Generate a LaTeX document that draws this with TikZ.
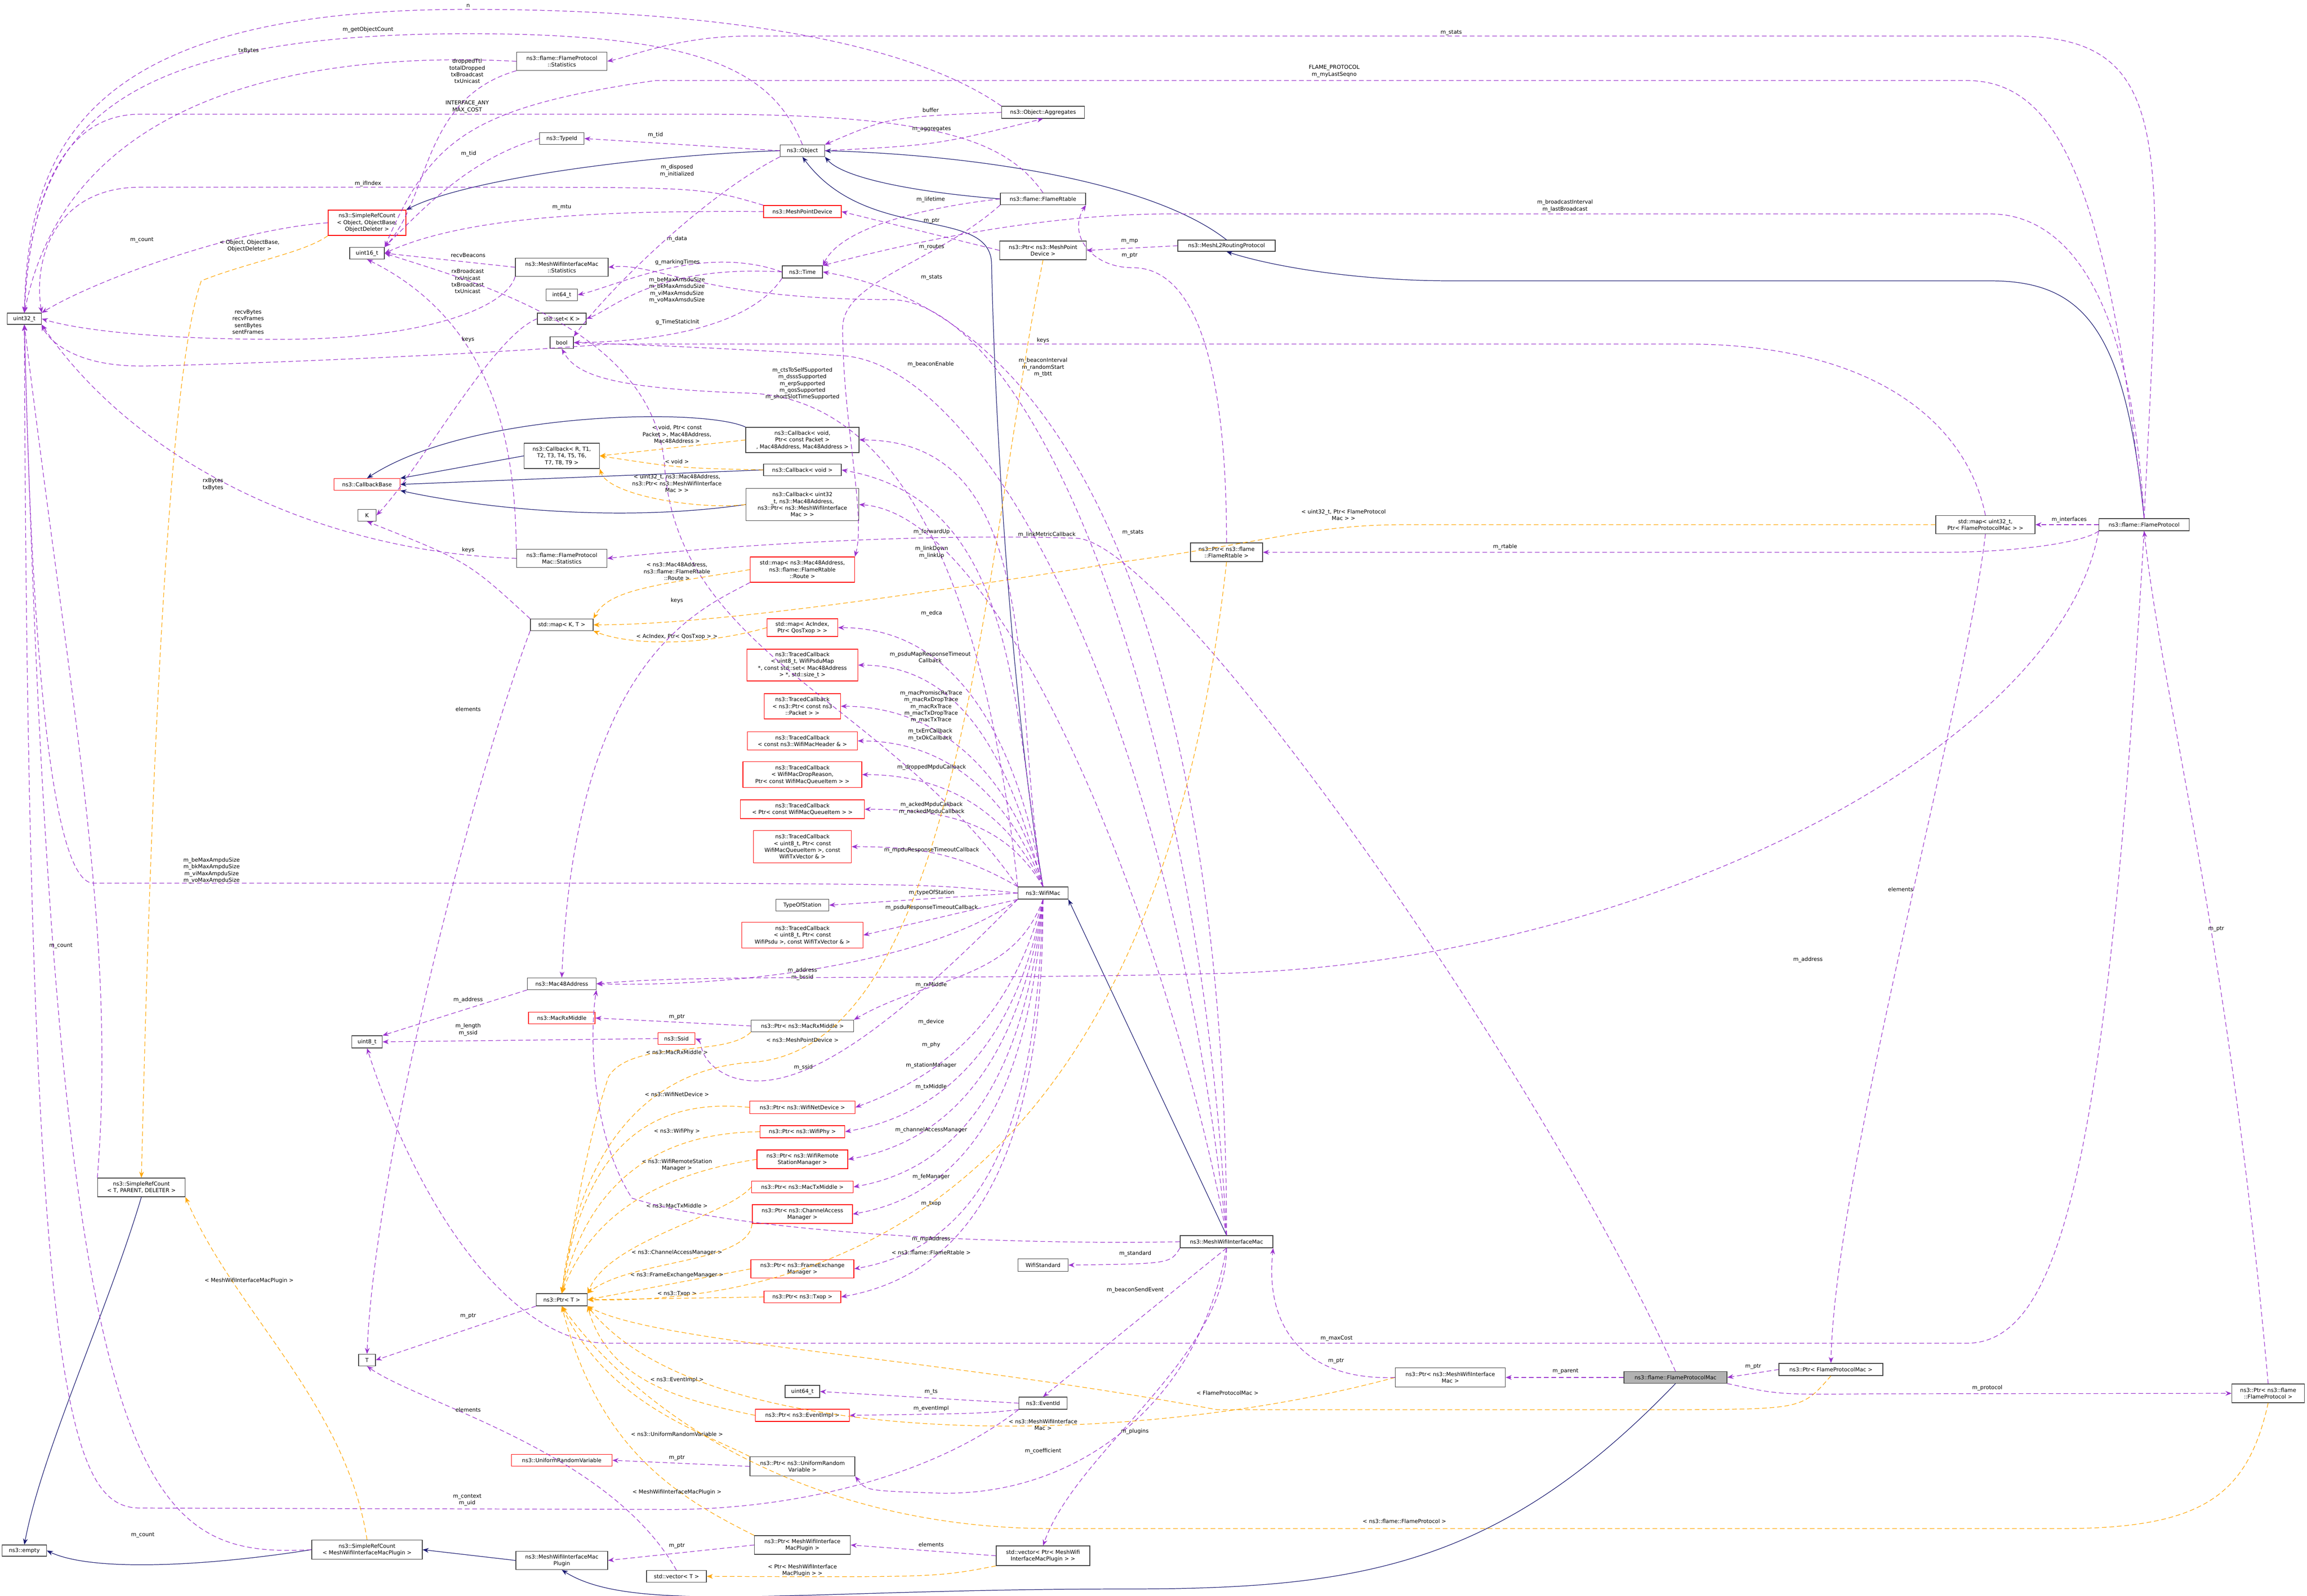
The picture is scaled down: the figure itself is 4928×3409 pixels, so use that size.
\documentclass[tikz,border=0pt]{standalone}
\usepackage{fontspec}
\setmainfont{DejaVu Sans}
\usetikzlibrary{arrows.meta}
\definecolor{purp}{HTML}{9A32CD}
\definecolor{orng}{HTML}{FFA500}
\definecolor{navyb}{HTML}{191970}
\tikzset{
 box/.style={draw=black!75,line width=0.7pt,fill=white,inner sep=1pt,align=center,font=\fontsize{6.6}{8.2}\selectfont},
 rbox/.style={box,draw=red},
 lbl/.style={inner sep=0pt,align=center,font=\fontsize{6.6}{8.2}\selectfont},
 use/.style={draw=purp,line width=0.7pt,dash pattern=on 2mm off 1.2mm,-{Stealth[length=2.6mm,width=2mm]}},
 tmpl/.style={draw=orng,line width=0.7pt,dash pattern=on 2mm off 1.2mm,-{Stealth[length=2.6mm,width=2mm]}},
 inh/.style={draw=navyb,line width=0.7pt,-{Stealth[length=2.6mm,width=2mm]}},
}
\newcommand{\bx}[6]{\node[#1,minimum width=#4*0.2mm,minimum height=#5*0.2mm] (#2) at (#3) {#6};}
\begin{document}
\begin{tikzpicture}[x=0.2mm,y=-0.2mm]
\useasboundingbox (0,0) rectangle (4928,3409);
% nodes
\bx{box}{uint32}{52,681}{73}{24}{uint32\_t}
\bx{rbox}{srcObj}{784,476}{166}{54}{ns3::SimpleRefCount\\< Object, ObjectBase,\\ObjectDeleter >}
\bx{box}{uint16}{784,541}{74}{25}{uint16\_t}
\bx{box}{typeid}{1200,296}{95}{25}{ns3::TypeId}
\bx{box}{fpStats}{1200,131}{193}{39}{ns3::flame::FlameProtocol\\::Statistics}
\bx{box}{mwimStats}{1200,571}{198}{39}{ns3::MeshWifiInterfaceMac\\::Statistics}
\bx{box}{int64}{1200,630}{67}{25}{int64\_t}
\bx{box}{setK}{1200,681}{104}{24}{std::set< K >}
\bx{box}{bool}{1200,732}{50}{25}{bool}
\bx{box}{aggr}{2228,240}{177}{26}{ns3::Object::Aggregates}
\bx{box}{object}{1714,322}{95}{25}{ns3::Object}
\bx{box}{frtable}{2228,425}{182}{25}{ns3::flame::FlameRtable}
\bx{rbox}{mpd}{1714,452}{166}{26}{ns3::MeshPointDevice}
\bx{box}{ptrMpd}{2228,535}{185}{40}{ns3::Ptr< ns3::MeshPoint\\Device >}
\bx{box}{time}{1714,581}{86}{26}{ns3::Time}
\bx{box}{cbRT}{1200,974}{161}{54}{ns3::Callback< R, T1,\\T2, T3, T4, T5, T6,\\T7, T8, T9 >}
\bx{rbox}{cbBase}{784,1035}{141}{25}{ns3::CallbackBase}
\bx{box}{cbVoidPkt}{1714,940}{242}{54}{ns3::Callback< void,\\Ptr< const Packet >\\, Mac48Address, Mac48Address >}
\bx{box}{cbVoid}{1714,1004}{166}{25}{ns3::Callback< void >}
\bx{box}{cbU32}{1714,1078}{241}{69}{ns3::Callback< uint32\\\_t, ns3::Mac48Address,\\ns3::Ptr< ns3::MeshWifiInterface\\Mac > >}
\bx{box}{K}{784,1101}{39}{25}{K}
\bx{box}{fpmStats}{1200,1193}{193}{39}{ns3::flame::FlameProtocol\\Mac::Statistics}
\bx{rbox}{mapRoute}{1714,1217}{223}{54}{std::map< ns3::Mac48Address,\\ns3::flame::FlameRtable\\::Route >}
\bx{box}{mapKT}{1200,1335}{134}{25}{std::map< K, T >}
\bx{rbox}{mapAc}{1714,1341}{151}{38}{std::map< AcIndex,\\Ptr< QosTxop > >}
\bx{rbox}{tcPsduMap}{1714,1421}{237}{68}{ns3::TracedCallback\\< uint8\_t, WifiPsduMap\\*, const std::set< Mac48Address\\> *, std::size\_t >}
\bx{rbox}{tcPkt}{1714,1509}{163}{54}{ns3::TracedCallback\\< ns3::Ptr< const ns3\\::Packet > >}
\bx{rbox}{tcHdr}{1714,1583}{235}{39}{ns3::TracedCallback\\< const ns3::WifiMacHeader \& >}
\bx{rbox}{tcDrop}{1714,1655}{254}{55}{ns3::TracedCallback\\< WifiMacDropReason,\\Ptr< const WifiMacQueueItem > >}
\bx{rbox}{tcItem}{1714,1729}{265}{40}{ns3::TracedCallback\\< Ptr< const WifiMacQueueItem > >}
\bx{rbox}{tcMpdu}{1714,1809}{209}{69}{ns3::TracedCallback\\< uint8\_t, Ptr< const\\WifiMacQueueItem >, const\\WifiTxVector \& >}
\bx{box}{tos}{1714,1934}{113}{25}{TypeOfStation}
\bx{rbox}{tcPsdu}{1714,1998}{259}{55}{ns3::TracedCallback\\< uint8\_t, Ptr< const\\WifiPsdu >, const WifiTxVector \& >}
\bx{box}{mac48}{1200,2102}{147}{25}{ns3::Mac48Address}
\bx{rbox}{macRx}{1200,2175}{142}{25}{ns3::MacRxMiddle}
\bx{box}{ptrMacRx}{1714,2192}{219}{25}{ns3::Ptr< ns3::MacRxMiddle >}
\bx{box}{uint8}{784,2226}{65}{26}{uint8\_t}
\bx{rbox}{ssid}{1445,2219}{79}{25}{ns3::Ssid}
\bx{rbox}{ptrNetDev}{1714,2366}{225}{27}{ns3::Ptr< ns3::WifiNetDevice >}
\bx{rbox}{ptrPhy}{1714,2418}{181}{26}{ns3::Ptr< ns3::WifiPhy >}
\bx{rbox}{ptrRsm}{1714,2477}{194}{40}{ns3::Ptr< ns3::WifiRemote\\StationManager >}
\bx{rbox}{ptrTxMid}{1714,2536}{217}{25}{ns3::Ptr< ns3::MacTxMiddle >}
\bx{rbox}{ptrCam}{1714,2594}{214}{40}{ns3::Ptr< ns3::ChannelAccess\\Manager >}
\bx{rbox}{ptrFem}{1714,2711}{220}{39}{ns3::Ptr< ns3::FrameExchange\\Manager >}
\bx{rbox}{ptrTxop}{1714,2771}{164}{25}{ns3::Ptr< ns3::Txop >}
\bx{box}{ptrT}{1200,2777}{109}{26}{ns3::Ptr< T >}
\bx{box}{wifimac}{2228,1908}{107}{26}{ns3::WifiMac}
\bx{box}{ptrFrt}{2620,1180}{154}{40}{ns3::Ptr< ns3::flame\\::FlameRtable >}
\bx{box}{mwim}{2620,2653}{198}{26}{ns3::MeshWifiInterfaceMac}
\bx{box}{wifiStd}{2228,2703}{107}{27}{WifiStandard}
\bx{box}{T}{784,2906}{36}{25}{T}
\bx{box}{uint64}{1714,2973}{74}{26}{uint64\_t}
\bx{box}{eventId}{2228,2998}{103}{26}{ns3::EventId}
\bx{rbox}{ptrEvImpl}{1714,3024}{201}{26}{ns3::Ptr< ns3::EventImpl >}
\bx{rbox}{urv}{1200,3120}{215}{25}{ns3::UniformRandomVariable}
\bx{box}{ptrUrv}{1714,3133}{224}{41}{ns3::Ptr< ns3::UniformRandom\\Variable >}
\bx{box}{empty}{52,3313}{95}{24}{ns3::empty}
\bx{box}{srcPlugin}{784,3311}{236}{41}{ns3::SimpleRefCount\\< MeshWifiInterfaceMacPlugin >}
\bx{box}{plugin}{1200,3334}{196}{39}{ns3::MeshWifiInterfaceMac\\Plugin}
\bx{box}{ptrPlugin}{1714,3301}{205}{40}{ns3::Ptr< MeshWifiInterface\\MacPlugin >}
\bx{box}{vecT}{1445,3368}{128}{25}{std::vector< T >}
\bx{box}{vecPlugin}{2228,3324}{200}{42}{std::vector< Ptr< MeshWifi\\InterfaceMacPlugin > >}
\bx{box}{srcT}{302,2537}{187}{40}{ns3::SimpleRefCount\\< T, PARENT, DELETER >}
\bx{box}{ptrMwim}{3098,2943}{235}{41}{ns3::Ptr< ns3::MeshWifiInterface\\Mac >}
\node[box,fill=black!30,minimum width=220*0.2mm,minimum height=25*0.2mm] (fpm) at (3579,2943) {ns3::flame::FlameProtocolMac};
\bx{box}{ptrFpm}{3911,2926}{222}{26}{ns3::Ptr< FlameProtocolMac >}
\bx{box}{ptrFp}{4845,2977}{155}{40}{ns3::Ptr< ns3::flame\\::FlameProtocol >}
\bx{box}{mapFpm}{4241,1121}{212}{39}{std::map< uint32\_t,\\Ptr< FlameProtocolMac > >}
\bx{box}{fp}{4580,1121}{193}{26}{ns3::flame::FlameProtocol}
\bx{box}{meshL2}{2620,525}{208}{24}{ns3::MeshL2RoutingProtocol}

% inheritance
\draw[inh] (object.west) .. controls (1400,330) and (1000,380) .. (srcObj.north east);
\draw[inh] (frtable.west) .. controls (1950,410) and (1800,380) .. (object.south east);
\draw[inh] (meshL2.north) .. controls (2450,380) and (2050,330) .. (object.east);
\draw[inh] (wifimac.north) .. controls (2160,1500) and (2125,900) .. (2118,560) .. controls (2110,440) and (1850,520) .. (object.south);
\draw[inh] (fp.north) .. controls (4540,700) and (4450,600) .. (4250,600) -- (3100,600) .. controls (2900,600) and (2720,570) .. (meshL2.south);
\draw[inh] (mwim.north) -- (wifimac.south east);
\draw[inh] (fpm.south) .. controls (3200,3350) and (2900,3395) .. (2400,3395) .. controls (1700,3395) and (1350,3450) .. (plugin.south);
\draw[inh] (plugin.west) -- (srcPlugin.east);
\draw[inh] (srcPlugin.west) .. controls (450,3345) and (200,3360) .. (empty.east);
\draw[inh] (srcT.south) .. controls (230,2800) and (90,3100) .. (empty.north);
\draw[inh] (cbRT.west) -- (cbBase.north east);
\draw[inh] (cbVoidPkt.north west) .. controls (1500,870) and (1000,880) .. (cbBase.north);
\draw[inh] (cbVoid.west) -- (cbBase.east);
\draw[inh] (cbU32.west) .. controls (1300,1120) and (1000,1080) .. (cbBase.south east);

% usage top
\draw[use] (aggr.north west) .. controls (1900,60) and (1400,20) .. (1000,20) .. controls (200,20) and (60,300) .. (uint32.north);
\node[lbl] (l1) at (1000,12) {n};
\draw[use] (object.north) .. controls (1650,150) and (1500,72) .. (1000,72) .. controls (200,72) and (70,300) .. (uint32.north);
\node[lbl] (l2) at (786,63) {m\_getObjectCount};
\draw[use] (fpStats.west) .. controls (700,110) and (150,180) .. (uint32.north);
\node[lbl] (l3) at (531,108) {txBytes};
\draw[use] (fpStats.south west) .. controls (900,210) and (920,420) .. (uint16.north east);
\node[lbl] (l4) at (998,152) {droppedTtl\\totalDropped\\txBroadcast\\txUnicast};
\draw[use] (fp.north) .. controls (4620,300) and (4650,77) .. (4300,77) -- (1600,77) .. controls (1450,77) and (1350,120) .. (fpStats.east);
\node[lbl] (l5) at (3100,70) {m\_stats};
\draw[use] (fp.north) .. controls (4500,400) and (4400,172) .. (4200,172) -- (1400,172) .. controls (1000,230) and (920,300) .. (uint16.north east);
\node[lbl] (l6) at (2850,152) {FLAME\_PROTOCOL\\m\_myLastSeqno};
\draw[use] (frtable.north) .. controls (2150,300) and (2000,244) .. (1500,244) -- (300,244) .. controls (100,244) and (60,500) .. (uint32.north);
\node[lbl] (l7) at (998,228) {INTERFACE\_ANY\\MAX\_COST};
\draw[use] (object.west) -- (typeid.east);
\node[lbl] (l8) at (1400,288) {m\_tid};
\draw[use] (typeid.west) .. controls (1000,340) and (900,450) .. (uint16.north east);
\node[lbl] (l9) at (1001,328) {m\_tid};
\draw[use] (object.east) .. controls (2000,310) .. (aggr.south);
\node[lbl] (l10) at (1990,276) {m\_aggregates};
\draw[use] (aggr.west) .. controls (1900,250) .. (object.north east);
\node[lbl] (l11) at (1988,235) {buffer};
\draw[use] (mpd.north west) .. controls (1500,400) .. (1000,400) -- (300,400) .. controls (120,400) and (70,550) .. (uint32.north east);
\node[lbl] (l12) at (786,392) {m\_ifIndex};
\draw[use] (mpd.west) .. controls (1300,450) and (1000,460) .. (uint16.east);
\node[lbl] (l13) at (1200,443) {m\_mtu};
\draw[use] (srcObj.west) .. controls (500,490) and (200,600) .. (uint32.north east);
\node[lbl] (l14) at (303,513) {m\_count};
\draw[tmpl] (srcObj.south west) .. controls (650,540) and (530,560) .. (430,600) .. controls (340,850) and (310,2200) .. (srcT.north);
\node[lbl] (l15) at (533,525) {< Object, ObjectBase,\\ObjectDeleter >};
\draw[use] (mwimStats.west) -- (uint16.east);
\node[lbl] (l16) at (1000,545) {recvBeacons};
\draw[use] (mwimStats.south west) .. controls (1080,660) and (900,725) .. (600,725) .. controls (300,725) and (150,700) .. (uint32.east);
\node[lbl] (l17) at (530,688) {recvBytes\\recvFrames\\sentBytes\\sentFrames};
\draw[use] (fpmStats.north west) .. controls (1100,1000) and (1080,700) .. (uint16.south);
\node[lbl] (l18) at (999,601) {rxBroadcast\\rxUnicast\\txBroadcast\\txUnicast};
\draw[use] (fpmStats.west) .. controls (700,1180) and (300,1000) .. (uint32.south east);
\node[lbl] (l19) at (455,1035) {rxBytes\\txBytes};
\draw[use] (time.west) .. controls (1500,520) and (1320,610) .. (int64.east);
\node[lbl] (l20) at (1446,510) {m\_data};
\draw[use] (time.west) .. controls (1400,565) and (1310,660) .. (setK.east);
\node[lbl] (l21) at (1447,560) {g\_markingTimes};
\draw[use] (time.south west) .. controls (1600,700) and (1400,730) .. (bool.east);
\node[lbl] (l22) at (1447,688) {g\_TimeStaticInit};
\draw[use] (setK.west) .. controls (1050,720) and (900,1000) .. (K.east);
\node[lbl] (l23) at (1000,725) {keys};
\draw[use] (object.south west) .. controls (1500,420) and (1300,620) .. (bool.north east);
\node[lbl] (l24) at (1446,365) {m\_disposed\\m\_initialized};
\draw[use] (frtable.west) .. controls (2000,440) and (1800,480) .. (time.north east);
\node[lbl] (l25) at (1988,426) {m\_lifetime};
\draw[use] (mwim.north) .. controls (2620,1800) and (2450,700) .. (time.east);
\node[lbl] (l26) at (2228,785) {m\_beaconInterval\\m\_randomStart\\m\_tbtt};
\draw[use] (ptrMpd.west) -- (mpd.east);
\node[lbl] (l27) at (1990,472) {m\_ptr};
\draw[use] (meshL2.west) -- (ptrMpd.east);
\node[lbl] (l28) at (2413,516) {m\_mp};
\draw[use] (ptrFrt.north) .. controls (2620,800) and (2560,572) .. (2420,572) .. controls (2330,572) and (2280,500) .. (frtable.south east);
\node[lbl] (l29) at (2413,546) {m\_ptr};
\draw[use] (fp.north) .. controls (4550,600) and (4400,457) .. (4250,457) -- (2500,457) .. controls (2200,457) and (1900,530) .. (time.north east);
\node[lbl] (l30) at (3343,440) {m\_broadcastInterval\\m\_lastBroadcast};
\draw[use] (frtable.south west) .. controls (2000,560) and (1800,600) .. (1800,700) .. controls (1800,900) and (1850,1100) .. (mapRoute.north east);
\node[lbl] (l31) at (1990,528) {m\_routes};
\draw[use] (mwim.north) .. controls (2560,1500) and (2200,640) .. (1900,640) .. controls (1500,640) and (1400,560) .. (mwimStats.east);
\node[lbl] (l32) at (1990,593) {m\_stats};
\draw[use] (fpm.north) .. controls (3300,2300) and (2500,1160) .. (2300,1150) .. controls (2000,1140) and (1600,1160) .. (fpmStats.east);
\node[lbl] (l33) at (2420,1138) {m\_stats};
\draw[use] (wifimac.north west) .. controls (2100,1200) and (1900,850) .. (1600,840) .. controls (1300,830) and (1230,800) .. (bool.south);
\node[lbl] (l34) at (1714,820) {m\_ctsToSelfSupported\\m\_dsssSupported\\m\_erpSupported\\m\_qosSupported\\m\_shortSlotTimeSupported};
\draw[use] (mwim.north) .. controls (2500,1500) and (2100,780) .. (1800,760) .. controls (1500,740) and (1300,735) .. (bool.east);
\node[lbl] (l35) at (1988,778) {m\_beaconEnable};
\draw[use] (mapFpm.north) .. controls (4200,900) and (4000,735) .. (3600,735) -- (1300,735) .. controls (1000,760) and (400,782) .. (300,782) .. controls (150,782) and (100,720) .. (uint32.south east);
\node[lbl] (l36) at (2228,727) {keys};
\draw[use] (wifimac.west) .. controls (2000,1890) .. (1500,1887) -- (200,1887) .. controls (80,1887) and (60,1000) .. (uint32.south);
\node[lbl] (l37) at (452,1860) {m\_beMaxAmpduSize\\m\_bkMaxAmpduSize\\m\_viMaxAmpduSize\\m\_voMaxAmpduSize};
\draw[use] (wifimac.north west) .. controls (1900,1500) and (1450,1400) .. (1420,1000) .. controls (1400,700) and (1000,600) .. (uint16.east);
\node[lbl] (l38) at (1446,620) {m\_beMaxAmsduSize\\m\_bkMaxAmsduSize\\m\_viMaxAmsduSize\\m\_voMaxAmsduSize};
\draw[use] (mapKT.north west) .. controls (1000,1200) .. (K.south);
\node[lbl] (l39) at (1000,1175) {keys};
\draw[use] (mapKT.south west) .. controls (1000,1700) and (800,2500) .. (T.north);
\node[lbl] (l40) at (1000,1515) {elements};
% template callbacks
\draw[tmpl] (cbVoidPkt.west) -- (cbRT.east);
\node[lbl] (l41) at (1446,928) {< void, Ptr< const\\Packet >, Mac48Address,\\Mac48Address >};
\draw[tmpl] (cbVoid.west) .. controls (1450,1000) .. (cbRT.east);
\node[lbl] (l42) at (1446,986) {< void >};
\draw[tmpl] (cbU32.west) .. controls (1500,1090) and (1300,1060) .. (cbRT.south east);
\node[lbl] (l43) at (1446,1033) {< uint32\_t, ns3::Mac48Address,\\ns3::Ptr< ns3::MeshWifiInterface\\Mac > >};
\draw[tmpl] (mapRoute.west) .. controls (1400,1250) and (1300,1260) .. (mapKT.north east);
\node[lbl] (l44) at (1446,1221) {< ns3::Mac48Address,\\ns3::flame::FlameRtable\\::Route >};
\draw[tmpl] (mapAc.west) .. controls (1500,1380) and (1350,1380) .. (mapKT.south east);
\node[lbl] (l45) at (1446,1360) {< AcIndex, Ptr< QosTxop > >};
\draw[tmpl] (mapFpm.west) -- (3000,1121) .. controls (2800,1121) and (2700,1160) .. (2400,1200) .. controls (1900,1280) and (1500,1335) .. (mapKT.east);
\node[lbl] (l46) at (2870,1100) {< uint32\_t, Ptr< FlameProtocol\\Mac > >};
\draw[use] (mapRoute.south west) .. controls (1500,1300) and (1230,1400) .. (mac48.north);
\node[lbl] (l47) at (1446,1283) {keys};
% WifiMac members
\draw[use] (wifimac.north) to[out=100,in=0] (cbVoidPkt.east);
\node[lbl] (l48) at (1990,1136) {m\_forwardUp};
\draw[use] (wifimac.north) to[out=100,in=-10] (cbVoid.east);
\node[lbl] (l49) at (1990,1180) {m\_linkDown\\m\_linkUp};
\draw[use] (mwim.north) .. controls (2500,2000) and (2150,1100) .. (cbU32.east);
\node[lbl] (l50) at (2236,1142) {m\_linkMetricCallback};
\draw[use] (wifimac.north) to[out=100,in=0] (mapAc.east);
\node[lbl] (l51) at (1990,1310) {m\_edca};
\draw[use] (wifimac.north) to[out=105,in=0] (tcPsduMap.east);
\node[lbl] (l52) at (1987,1404) {m\_psduMapResponseTimeout\\Callback};
\draw[use] (wifimac.north) to[out=105,in=0] (tcPkt.east);
\node[lbl] (l53) at (1989,1510) {m\_macPromiscRxTrace\\m\_macRxDropTrace\\m\_macRxTrace\\m\_macTxDropTrace\\m\_macTxTrace};
\draw[use] (wifimac.north) to[out=110,in=0] (tcHdr.east);
\node[lbl] (l54) at (1987,1570) {m\_txErrCallback\\m\_txOkCallback};
\draw[use] (wifimac.north) to[out=115,in=0] (tcDrop.east);
\node[lbl] (l55) at (1990,1639) {m\_droppedMpduCallback};
\draw[use] (wifimac.north) to[out=120,in=0] (tcItem.east);
\node[lbl] (l56) at (1990,1727) {m\_ackedMpduCallback\\m\_nackedMpduCallback};
\draw[use] (wifimac.north west) to[out=150,in=0] (tcMpdu.east);
\node[lbl] (l57) at (1990,1816) {m\_mpduResponseTimeoutCallback};
\draw[use] (wifimac.west) -- (tos.east);
\node[lbl] (l58) at (1990,1907) {m\_typeOfStation};
\draw[use] (wifimac.south west) -- (tcPsdu.east);
\node[lbl] (l59) at (1990,1939) {m\_psduResponseTimeoutCallback};
\draw[use] (wifimac.south west) .. controls (2000,2050) and (1600,2110) .. (mac48.east);
\node[lbl] (l60) at (1714,2081) {m\_address\\m\_bssid};
\draw[use] (wifimac.south) to[out=-110,in=30] (ptrMacRx.north east);
\node[lbl] (l61) at (1989,2104) {m\_rxMiddle};
\draw[use] (wifimac.south) to[out=-105,in=20] (ptrNetDev.east);
\node[lbl] (l62) at (1989,2183) {m\_device};
\draw[use] (wifimac.south) to[out=-100,in=10] (ptrPhy.east);
\node[lbl] (l63) at (1989,2232) {m\_phy};
\draw[use] (wifimac.south) to[out=-98,in=10] (ptrRsm.east);
\node[lbl] (l64) at (1989,2276) {m\_stationManager};
\draw[use] (wifimac.south) to[out=-96,in=10] (ptrTxMid.east);
\node[lbl] (l65) at (1989,2322) {m\_txMiddle};
\draw[use] (wifimac.south) to[out=-94,in=10] (ptrCam.east);
\node[lbl] (l66) at (1989,2414) {m\_channelAccessManager};
\draw[use] (wifimac.south) to[out=-92,in=10] (ptrFem.east);
\node[lbl] (l67) at (1989,2514) {m\_feManager};
\draw[use] (wifimac.south) to[out=-90,in=10] (ptrTxop.east);
\node[lbl] (l68) at (1989,2572) {m\_txop};
\draw[use] (wifimac.south west) .. controls (1900,2200) and (1700,2350) .. (1560,2300) .. controls (1490,2270) and (1500,2225) .. (ssid.east);
\node[lbl] (l69) at (1716,2280) {m\_ssid};
\draw[use] (mac48.south west) -- (uint8.north east);
\node[lbl] (l70) at (1000,2136) {m\_address};
\draw[use] (ssid.west) -- (uint8.east);
\node[lbl] (l71) at (1000,2200) {m\_length\\m\_ssid};
\draw[use] (ptrMacRx.west) -- (macRx.east);
\node[lbl] (l72) at (1446,2173) {m\_ptr};
% Ptr templates
\draw[tmpl] (ptrMacRx.south west) .. controls (1550,2260) and (1350,2220) .. (1300,2300) .. controls (1250,2450) and (1220,2650) .. (ptrT.north);
\node[lbl] (l73) at (1446,2248) {< ns3::MacRxMiddle >};
\draw[tmpl] (ptrMpd.south) .. controls (2100,1200) and (2050,2250) .. (1600,2270) .. controls (1350,2290) and (1230,2500) .. (ptrT.north);
\node[lbl] (l74) at (1714,2222) {< ns3::MeshPointDevice >};
\draw[tmpl] (ptrNetDev.west) .. controls (1350,2340) and (1240,2500) .. (ptrT.north);
\node[lbl] (l75) at (1446,2338) {< ns3::WifiNetDevice >};
\draw[tmpl] (ptrPhy.west) .. controls (1380,2420) and (1250,2550) .. (ptrT.north);
\node[lbl] (l76) at (1446,2417) {< ns3::WifiPhy >};
\draw[tmpl] (ptrRsm.west) .. controls (1400,2510) and (1260,2600) .. (ptrT.north);
\node[lbl] (l77) at (1446,2489) {< ns3::WifiRemoteStation\\Manager >};
\draw[tmpl] (ptrTxMid.west) .. controls (1550,2600) and (1300,2650) .. (ptrT.north east);
\node[lbl] (l78) at (1446,2576) {< ns3::MacTxMiddle >};
\draw[tmpl] (ptrCam.south west) .. controls (1600,2700) and (1350,2690) .. (ptrT.north east);
\node[lbl] (l79) at (1446,2676) {< ns3::ChannelAccessManager >};
\draw[tmpl] (ptrFem.west) .. controls (1450,2740) .. (ptrT.east);
\node[lbl] (l80) at (1446,2724) {< ns3::FrameExchangeManager >};
\draw[tmpl] (ptrTxop.west) -- (ptrT.east);
\node[lbl] (l81) at (1446,2764) {< ns3::Txop >};
\draw[tmpl] (ptrFrt.south) .. controls (2500,2300) and (2000,2790) .. (ptrT.east);
\node[lbl] (l82) at (1989,2676) {< ns3::flame::FlameRtable >};
% MeshWifiInterfaceMac members
\draw[use] (mwim.west) .. controls (2200,2660) and (1600,2640) .. (1350,2560) .. controls (1260,2420) and (1260,2200) .. (mac48.south east);
\node[lbl] (l83) at (1989,2647) {m\_mpAddress};
\draw[use] (mwim.south west) .. controls (2500,2700) .. (wifiStd.east);
\node[lbl] (l84) at (2425,2678) {m\_standard};
\draw[use] (mwim.south) -- (eventId.north);
\node[lbl] (l85) at (2425,2756) {m\_beaconSendEvent};
\draw[use] (eventId.west) -- (uint64.east);
\node[lbl] (l86) at (1989,2974) {m\_ts};
\draw[use] (eventId.south west) .. controls (2100,3020) .. (ptrEvImpl.east);
\node[lbl] (l87) at (1989,3009) {m\_eventImpl};
\draw[tmpl] (ptrEvImpl.west) .. controls (1450,2990) and (1300,2950) .. (ptrT.south east);
\node[lbl] (l88) at (1446,2948) {< ns3::EventImpl >};
\draw[use] (eventId.south west) .. controls (2000,3150) and (1700,3230) .. (1400,3225) -- (300,3222) .. controls (150,3222) and (60,3000) .. (uint32.south);
\node[lbl] (l89) at (998,3205) {m\_context\\m\_uid};
\draw[use] (fp.south) .. controls (4500,2500) and (4400,2870) .. (4200,2870) -- (1300,2870) .. controls (1100,2870) and (900,2600) .. (uint8.south);
\node[lbl] (l90) at (2855,2860) {m\_maxCost};
\draw[use] (ptrT.south west) -- (T.east);
\node[lbl] (l91) at (1000,2812) {m\_ptr};
\draw[use] (vecT.north) .. controls (1300,3100) and (900,3000) .. (T.south);
\node[lbl] (l92) at (1000,3012) {elements};
\draw[use] (ptrUrv.west) -- (urv.east);
\node[lbl] (l93) at (1446,3115) {m\_ptr};
\draw[use] (mwim.south) .. controls (2560,3000) and (2300,3200) .. (2000,3190) .. controls (1850,3185) .. (ptrUrv.south east);
\node[lbl] (l94) at (2228,3100) {m\_coefficient};
\draw[tmpl] (ptrUrv.north west) .. controls (1500,3060) and (1300,3000) .. (ptrT.south);
\node[lbl] (l95) at (1446,3064) {< ns3::UniformRandomVariable >};
\draw[tmpl] (ptrPlugin.north west) .. controls (1450,3200) and (1280,3100) .. (ptrT.south);
\node[lbl] (l96) at (1446,3188) {< MeshWifiInterfaceMacPlugin >};
\draw[use] (ptrPlugin.west) -- (plugin.east);
\node[lbl] (l97) at (1446,3303) {m\_ptr};
\draw[use] (vecPlugin.west) -- (ptrPlugin.east);
\node[lbl] (l98) at (1989,3300) {elements};
\draw[tmpl] (vecPlugin.south west) .. controls (2000,3370) .. (vecT.east);
\node[lbl] (l99) at (1714,3355) {< Ptr< MeshWifiInterface\\MacPlugin > >};
\draw[use] (mwim.south) .. controls (2620,2900) and (2300,3100) .. (vecPlugin.north);
\node[lbl] (l100) at (2424,3058) {m\_plugins};
\draw[use] (srcPlugin.west) .. controls (300,3330) and (120,3200) .. (uint32.south);
\node[lbl] (l101) at (305,3280) {m\_count};
\draw[tmpl] (srcPlugin.north) .. controls (740,3000) and (500,2800) .. (srcT.south east);
\node[lbl] (l102) at (532,2736) {< MeshWifiInterfaceMacPlugin >};
\draw[use] (srcT.north west) .. controls (250,2000) and (150,1500) .. (uint32.south);
\node[lbl] (l103) at (130,2021) {m\_count};
\draw[tmpl] (ptrMwim.west) .. controls (2400,3100) and (1500,3100) .. (ptrT.south east);
\node[lbl] (l104) at (2228,3044) {< ns3::MeshWifiInterface\\Mac >};
\draw[tmpl] (ptrFpm.south) .. controls (3850,3010) .. (3600,3012) -- (2600,3012) .. controls (2000,2900) and (1400,2870) .. (ptrT.south east);
\node[lbl] (l105) at (2622,2976) {< FlameProtocolMac >};
\draw[tmpl] (ptrFp.south) .. controls (4800,3200) and (4700,3266) .. (4400,3266) -- (2250,3266) .. controls (1700,3266) and (1350,3000) .. (ptrT.south);
\node[lbl] (l106) at (3000,3250) {< ns3::flame::FlameProtocol >};
% FlameProtocolMac area
\draw[use] (fpm.west) -- (ptrMwim.east);
\node[lbl] (l107) at (3344,2930) {m\_parent};
\draw[use] (ptrMwim.west) .. controls (2800,2950) and (2700,2850) .. (mwim.south east);
\node[lbl] (l108) at (2854,2908) {m\_ptr};
\draw[use] (ptrFpm.west) -- (fpm.east);
\node[lbl] (l109) at (3745,2920) {m\_ptr};
\draw[use] (fpm.south east) .. controls (3800,2980) .. (4000,2978) -- (ptrFp.west);
\node[lbl] (l110) at (4245,2965) {m\_protocol};
\draw[use] (ptrFp.north) .. controls (4760,2000) and (4620,1500) .. (fp.south);
\node[lbl] (l111) at (4734,1985) {m\_ptr};
\draw[use] (mapFpm.south) .. controls (4200,1500) and (3920,2500) .. (ptrFpm.north);
\node[lbl] (l112) at (4060,1900) {elements};
\draw[use] (fp.west) -- (mapFpm.east);
\node[lbl] (l113) at (4420,1110) {m\_interfaces};
\draw[use] (fp.south west) .. controls (4450,1160) and (4300,1180) .. (4150,1180) -- (ptrFrt.east);
\node[lbl] (l114) at (3215,1168) {m\_rtable};
\draw[use] (fp.south west) .. controls (4400,1600) and (3500,2060) .. (2600,2080) .. controls (2000,2095) and (1500,2080) .. (mac48.east);
\node[lbl] (l115) at (3862,2050) {m\_address};
\end{tikzpicture}
\end{document}
